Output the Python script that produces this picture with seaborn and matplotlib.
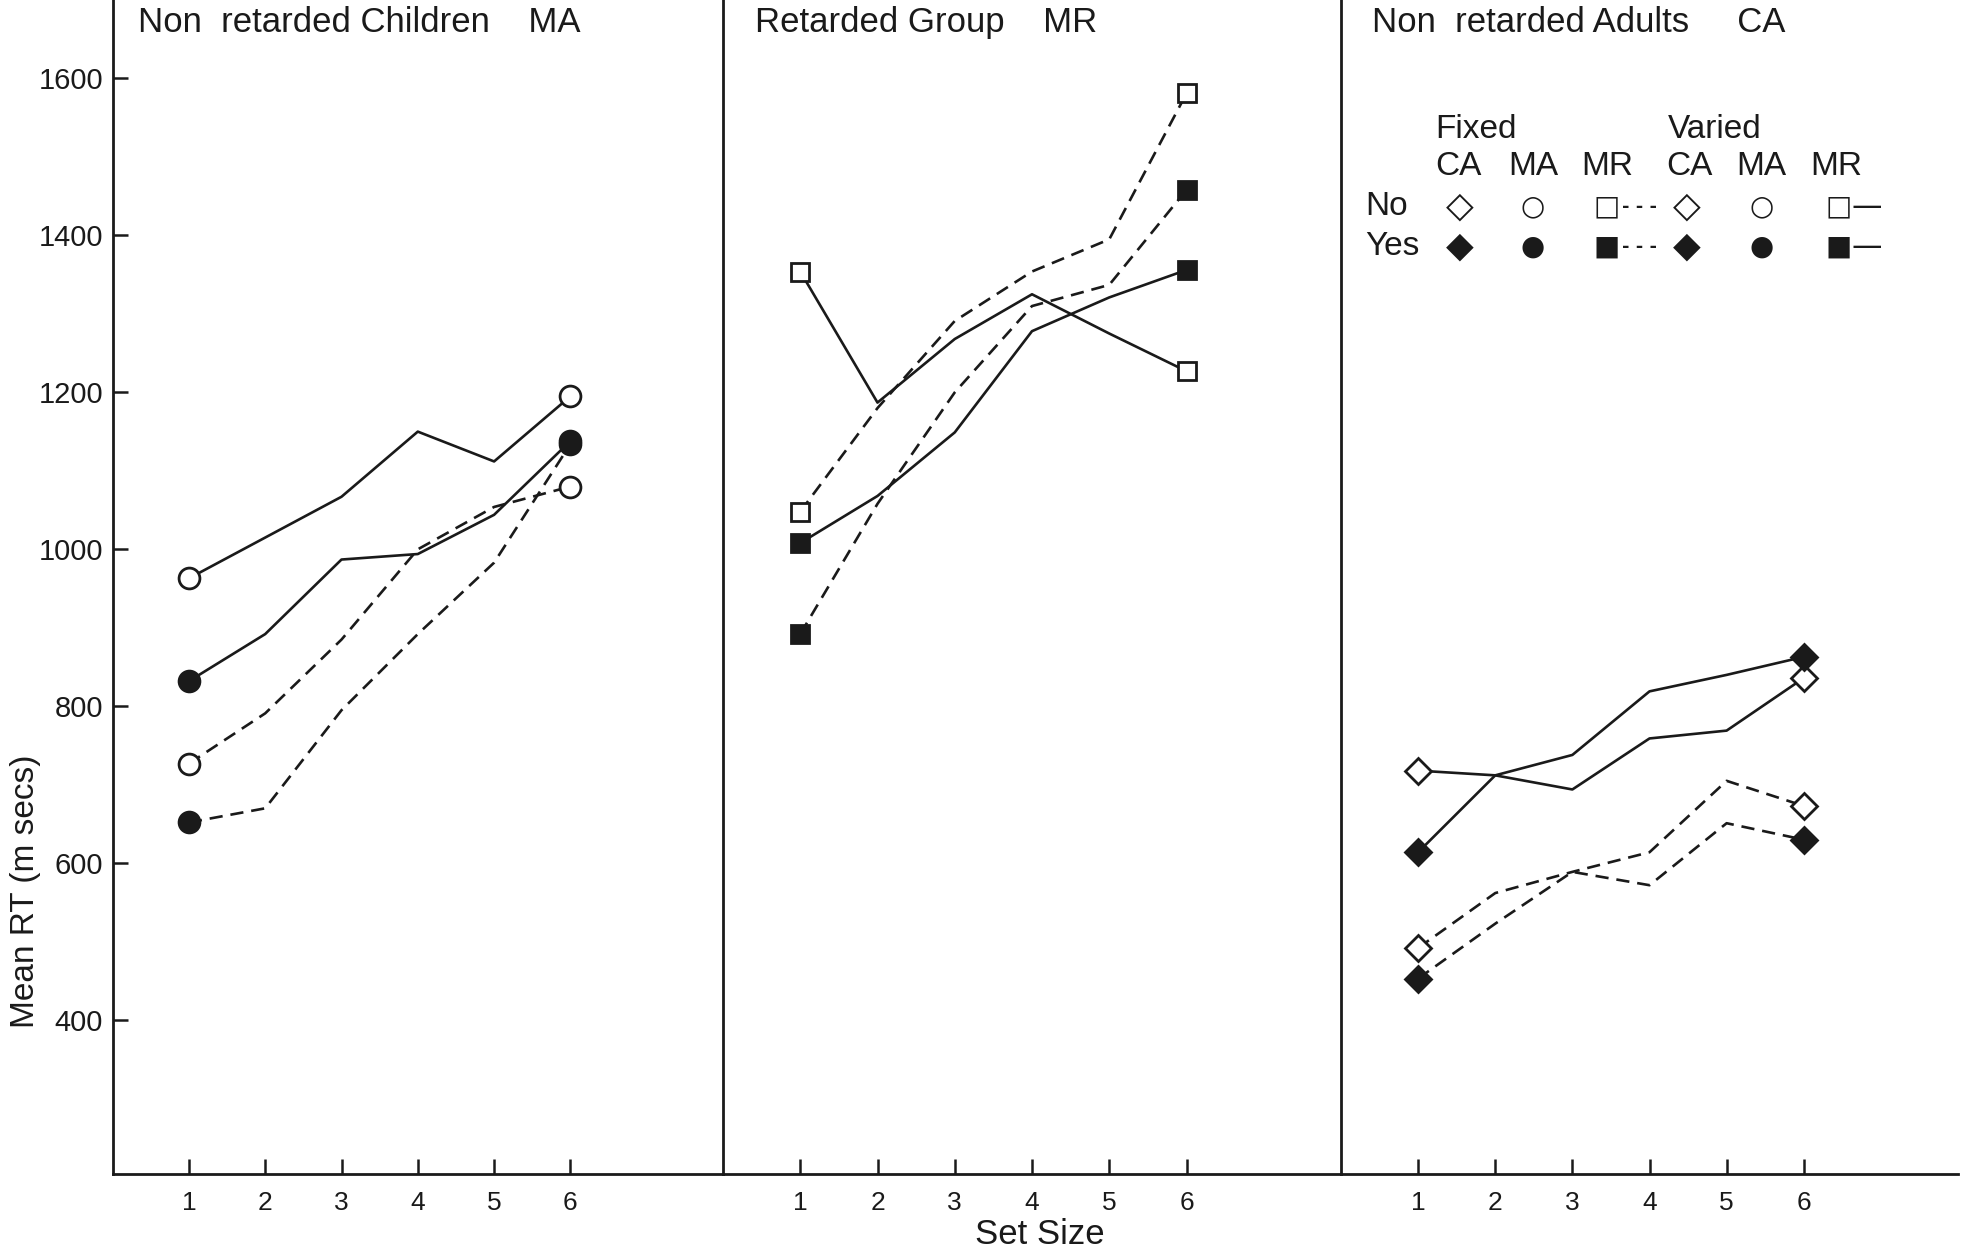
import matplotlib
matplotlib.use("Agg")
import matplotlib.pyplot as plt
import seaborn as sns
import pandas as pd

# ---------------- data ----------------
set_size = [1, 2, 3, 4, 5, 6]
x_ticks = [1, 2, 3, 4, 5, 6]
y_ticks = [400, 600, 800, 1000, 1200, 1400, 1600]

panel_titles = ["Non  retarded Children    MA", "Retarded Group    MR", "Non  retarded Adults     CA"]
groups = ["MA", "MR", "CA"]

# MA group (non retarded children)
ma_varied_no = [963, 1015, 1067, 1150, 1112, 1195]
ma_varied_yes = [832, 892, 987, 994, 1044, 1138]
ma_fixed_no = [727, 791, 885, 1000, 1054, 1080]
ma_fixed_yes = [652, 670, 795, 892, 983, 1134]

# MR group (retarded)
mr_varied_no = [1354, 1187, 1268, 1325, 1275, 1227]
mr_varied_yes = [1008, 1068, 1149, 1278, 1321, 1356]
mr_fixed_no = [1048, 1180, 1291, 1354, 1395, 1581]
mr_fixed_yes = [892, 1058, 1200, 1310, 1337, 1458]

# CA group (non retarded adults)
ca_varied_no = [718, 712, 694, 759, 769, 836]
ca_varied_yes = [614, 712, 738, 819, 840, 863]
ca_fixed_no = [492, 562, 589, 614, 705, 673]
ca_fixed_yes = [453, 523, 589, 572, 651, 630]

series = {
    ("MA", "Varied", "No"): ma_varied_no,
    ("MA", "Varied", "Yes"): ma_varied_yes,
    ("MA", "Fixed", "No"): ma_fixed_no,
    ("MA", "Fixed", "Yes"): ma_fixed_yes,
    ("MR", "Varied", "No"): mr_varied_no,
    ("MR", "Varied", "Yes"): mr_varied_yes,
    ("MR", "Fixed", "No"): mr_fixed_no,
    ("MR", "Fixed", "Yes"): mr_fixed_yes,
    ("CA", "Varied", "No"): ca_varied_no,
    ("CA", "Varied", "Yes"): ca_varied_yes,
    ("CA", "Fixed", "No"): ca_fixed_no,
    ("CA", "Fixed", "Yes"): ca_fixed_yes,
}

rows = []
for (g, cond, resp), vals in series.items():
    for s, v in zip(set_size, vals):
        rows.append({"group": g, "cond": cond, "resp": resp, "set_size": s, "rt": v})
df = pd.DataFrame(rows)

# ---------------- style ----------------
sns.set_theme(style="white")
plt.rcParams["font.family"] = ["Liberation Sans", "DejaVu Sans"]
INK = "#1a1a1a"

marker_of = {"MA": "o", "MR": "s", "CA": "D"}
msize_of = {"MA": 15, "MR": 13, "CA": 13}
ls_of = {"Fixed": (0, (5, 3)), "Varied": "-"}

fig = plt.figure(figsize=(19.62, 12.53), dpi=100)
W, H = 1962.0, 1253.0
bottom_px = 1174.0
edges = [112.6, 723.0, 1341.0, 1958.0]
axes = []
for i in range(3):
    ax = fig.add_axes([edges[i] / W, 1 - bottom_px / H,
                       (edges[i + 1] - edges[i]) / W, bottom_px / H])
    axes.append(ax)

for i, (ax, g) in enumerate(zip(axes, groups)):
    sub = df[df.group == g]
    for cond in ["Fixed", "Varied"]:
        for resp in ["No", "Yes"]:
            d = sub[(sub.cond == cond) & (sub.resp == resp)]
            sns.lineplot(data=d, x="set_size", y="rt", ax=ax, color=INK,
                         linestyle=ls_of[cond], linewidth=1.9,
                         marker=marker_of[g], markevery=[0, 5],
                         markersize=msize_of[g],
                         markerfacecolor=("white" if resp == "No" else INK),
                         markeredgecolor=INK, markeredgewidth=2.0,
                         errorbar=None, legend=False)
    ax.set_xlim(0, 8)
    ax.set_ylim(204, 1700)
    ax.set_xticks(x_ticks)
    ax.set_xticklabels([str(t) for t in x_ticks], fontsize=19)
    ax.set_yticks(y_ticks)
    ax.set_xlabel("")
    ax.set_ylabel("")
    for side in ["top", "right"]:
        ax.spines[side].set_visible(False)
    for side in ["left", "bottom"]:
        ax.spines[side].set_color(INK)
        ax.spines[side].set_linewidth(2.0)
    ax.tick_params(axis="x", direction="in", length=11, width=1.8, color=INK,
                   pad=12, labelcolor=INK, bottom=True)
    ax.tick_params(axis="y", direction="in", length=11, width=1.8, color=INK,
                   pad=7, labelcolor=INK, left=True)
    if i == 0:
        ax.set_yticklabels([str(t) for t in y_ticks], fontsize=21)
    else:
        ax.set_yticklabels([])
        ax.tick_params(axis="y", left=False)
    ax.patch.set_alpha(0)

title_x = [0.042, 0.051, 0.051]
for ax, t, tx in zip(axes, panel_titles, title_x):
    ax.text(tx, 0.981, t, transform=ax.transAxes, fontsize=25, color=INK,
            ha="left", va="center")

# legend table in third panel
ax = axes[2]
fs = 24
ax.text(0.152, 0.890, "Fixed", transform=ax.transAxes, fontsize=fs, color=INK, va="center")
ax.text(0.530, 0.890, "Varied", transform=ax.transAxes, fontsize=fs, color=INK, va="center")
col_x = [0.190, 0.311, 0.431, 0.564, 0.681, 0.802]
for cx, lab in zip(col_x, ["CA", "MA", "MR", "CA", "MA", "MR"]):
    ax.text(cx, 0.858, lab, transform=ax.transAxes, fontsize=fs, color=INK,
            ha="center", va="center")
ax.text(0.040, 0.824, "No", transform=ax.transAxes, fontsize=fs, color=INK, va="center")
ax.text(0.040, 0.790, "Yes", transform=ax.transAxes, fontsize=fs, color=INK, va="center")
sym_no = ["\u25C7", "\u25CB", "\u25A1", "\u25C7", "\u25CB", "\u25A1"]
sym_yes = ["\u25C6", "\u25CF", "\u25A0", "\u25C6", "\u25CF", "\u25A0"]
sym_x = [0.193, 0.311, 0.431, 0.560, 0.681, 0.807]
sym_size = [26, 20, 20, 26, 20, 20]
for sx, sn, sy_, ss in zip(sym_x, sym_no, sym_yes, sym_size):
    ax.text(sx, 0.824, sn, transform=ax.transAxes, fontsize=ss, color=INK,
            ha="center", va="center", family="DejaVu Sans")
    ax.text(sx, 0.790, sy_, transform=ax.transAxes, fontsize=ss, color=INK,
            ha="center", va="center", family="DejaVu Sans")
for yy in [0.824, 0.790]:
    ax.text(0.455, yy, "- - -", transform=ax.transAxes, fontsize=13, color=INK,
            ha="left", va="center", family="DejaVu Sans", fontweight="bold")
    ax.text(0.827, yy, "\u2014", transform=ax.transAxes, fontsize=22, color=INK,
            ha="left", va="center", family="DejaVu Sans")

fig.text(1040 / W, 1 - 1235 / H, "Set Size", fontsize=25, color=INK,
         ha="center", va="center", family=["Liberation Sans Narrow", "Liberation Sans"])
fig.text(26 / W, 1 - 891 / H, "Mean RT (m secs)", fontsize=24, color=INK,
         rotation=90, ha="center", va="center",
         family=["Liberation Sans Narrow", "Liberation Sans"])

fig.savefig("out.png", dpi=100, facecolor="white")
